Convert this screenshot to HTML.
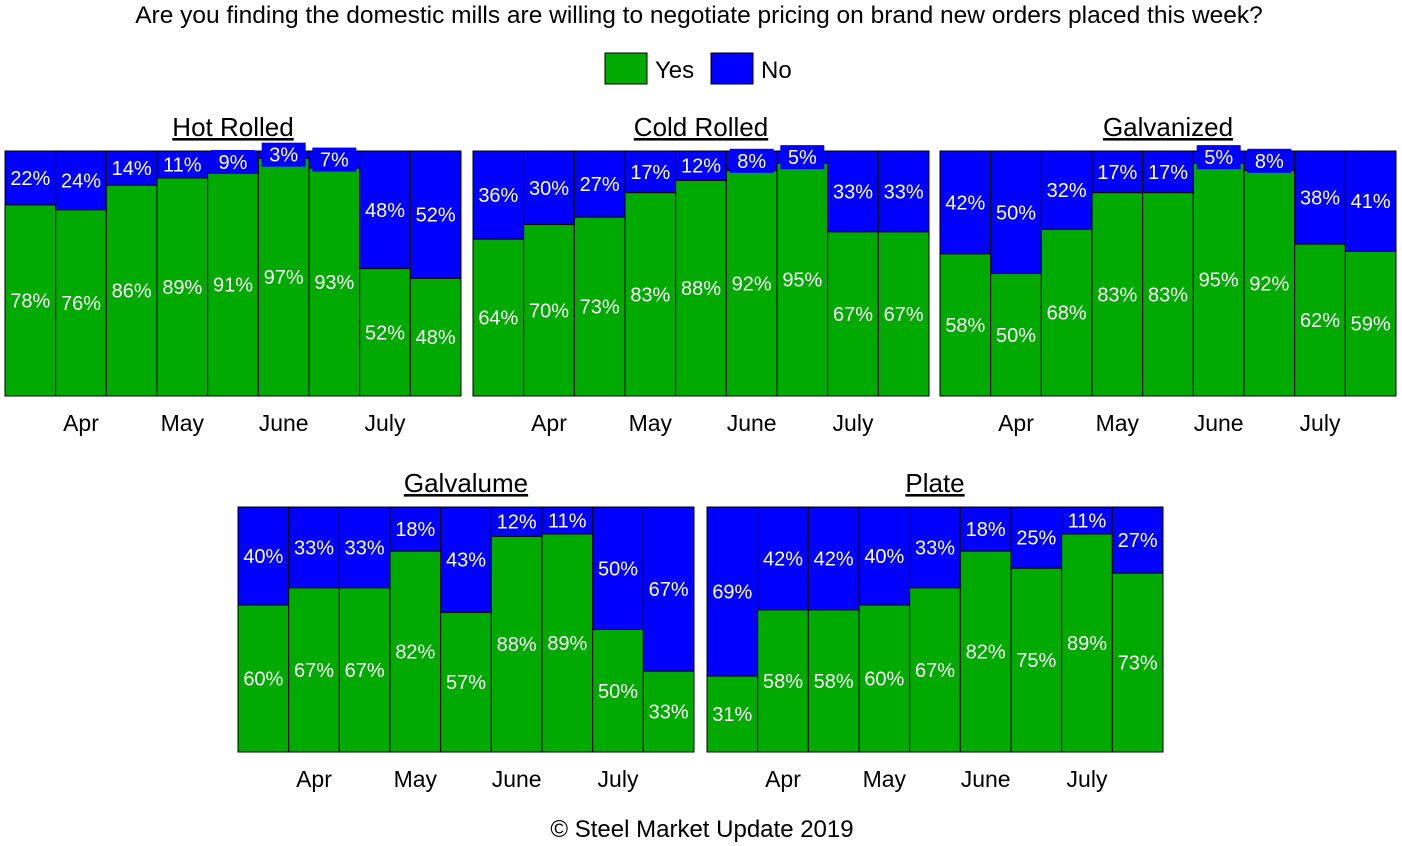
<!DOCTYPE html>
<html><head><meta charset="utf-8">
<style>
html,body{margin:0;padding:0;background:#fff;}
svg{display:block;font-family:"Liberation Sans",Arial,sans-serif;}
</style></head>
<body>
<svg id="chart" width="1402" height="846" viewBox="0 0 1402 846">
<text x="699" y="23" font-size="24.5" text-anchor="middle" fill="#000">Are you finding the domestic mills are willing to negotiate pricing on brand new orders placed this week?</text>
<g>
<rect x="605" y="53" width="42" height="31" fill="#00aa00" stroke="#000"/>
<text x="655" y="78" font-size="24">Yes</text>
<rect x="711" y="53" width="42" height="31" fill="#0000ff" stroke="#000"/>
<text x="761" y="78" font-size="24">No</text>
</g>
<text x="702" y="837" font-size="24" text-anchor="middle">© Steel Market Update 2019</text>
</svg>
<script>
const panelNames = ["Hot Rolled","Cold Rolled","Galvanized","Galvalume","Plate"];
const hotRolledYes = [78,76,86,89,91,97,93,52,48];
const coldRolledYes = [64,70,73,83,88,92,95,67,67];
const galvanizedYes = [58,50,68,83,83,95,92,62,59];
const galvalumeYes = [60,67,67,82,57,88,89,50,33];
const plateYes = [31,58,58,60,67,82,75,89,73];
const monthLabels = ["Apr","May","June","July"];
const monthBarIndex = [1,3,5,7];

const series=[hotRolledYes,coldRolledYes,galvanizedYes,galvalumeYes,plateYes];
const layout=[[5,151],[473,151],[940,151],[238,507],[707,507]];
const W=456,H=245;
const svg=document.getElementById('chart');
const NS='http://www.w3.org/2000/svg';
function mk(t,a){const e=document.createElementNS(NS,t);for(const k in a)e.setAttribute(k,a[k]);return e;}
series.forEach((yes,p)=>{
  const [x0,y0]=layout[p];
  const n=yes.length,bw=W/n;
  const xs=i=>x0+i*bw;
  const ys=v=>y0+H*(1-v/100);
  const g=mk('g',{});
  
  
  svg.appendChild(g);
  const t=mk('text',{x:x0+W/2,y:y0-15,'font-size':26,'text-anchor':'middle','text-decoration':'underline'});
  t.textContent=panelNames[p];
  
  
  g.appendChild(t);
  yes.forEach((v,i)=>{
    const no=100-v;
    const rn=mk('rect',{x:xs(i),y:y0,width:bw,height:ys(v)-y0,fill:'#0000ff',stroke:'#000','stroke-width':1});
    
    
    g.appendChild(rn);
    const ry=mk('rect',{x:xs(i),y:ys(v),width:bw,height:y0+H-ys(v),fill:'#00aa00',stroke:'#000','stroke-width':1});
    
    
    g.appendChild(ry);
    const cx=xs(i)+bw/2;
    const cyN=(y0+ys(v))/2;
    const bx=mk('rect',{x:cx-22,y:cyN-12,width:44,height:24,fill:'#0000ff'});
    
    
    g.appendChild(bx);
    const tn=mk('text',{x:cx,y:cyN+7,'font-size':20,fill:'#fff','text-anchor':'middle'});
    tn.textContent=no+'%';
    
    
    g.appendChild(tn);
    const cyY=(ys(v)+y0+H)/2;
    const ty=mk('text',{x:cx,y:cyY+7,'font-size':20,fill:'#fff','text-anchor':'middle'});
    ty.textContent=v+'%';
    
    
    g.appendChild(ty);
  });
  monthLabels.forEach((m,k)=>{
    const tm=mk('text',{x:xs(monthBarIndex[k])+bw/2,y:y0+H+35,'font-size':23,'text-anchor':'middle'});
    tm.textContent=m;
    
    
    g.appendChild(tm);
  });
});
</script>
</body></html>
